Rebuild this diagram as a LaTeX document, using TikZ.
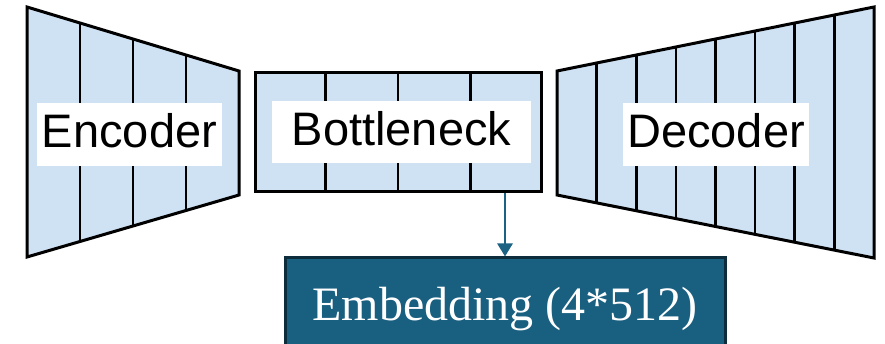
\documentclass[tikz,border=0pt]{standalone}
\usepackage{fontspec}
\setmainfont{Liberation Serif}
\setsansfont{Liberation Sans}
\usetikzlibrary{arrows.meta,calc}
\definecolor{lblue}{HTML}{CFE2F3}
\definecolor{embfill}{HTML}{195F80}
\definecolor{embborder}{HTML}{0D2C3C}
\definecolor{arrcol}{HTML}{1B6283}
\begin{document}
\begin{tikzpicture}[x=1pt,y=-1pt,
  seg/.style={draw=black, line width=3pt, fill=lblue, line join=miter},
  segline/.style={draw=black, line width=2.6pt},
  lbl/.style={fill=white, inner sep=0pt, font=\sffamily\fontsize{47}{47}\selectfont, text height=40pt, text depth=13pt},
  emb/.style={draw=embborder, line width=3pt, fill=embfill, inner sep=0pt, text=white, font=\rmfamily\fontsize{48}{48}\selectfont, text height=36pt, text depth=32pt},
  arr/.style={draw=arrcol, line width=2.6pt, -{Triangle[width=15pt,length=13pt]}}]
\clip (0,0) rectangle (885,344);
\fill[white] (0,0) rectangle (885,344);
% Encoder
\coordinate (e1) at (27,7);
\coordinate (e2) at (239,71);
\coordinate (e3) at (239,195);
\coordinate (e4) at (27,257);
\draw[seg] (e1)--(e2)--(e3)--(e4)--cycle;
\foreach \t in {0.25,0.5,0.75} \draw[segline] ($(e1)!\t!(e2)$) -- ($(e4)!\t!(e3)$);
% Decoder
\coordinate (d1) at (557,71);
\coordinate (d2) at (874,7);
\coordinate (d3) at (874,258);
\coordinate (d4) at (557,195);
\draw[seg] (d1)--(d2)--(d3)--(d4)--cycle;
\foreach \t in {0.125,0.25,0.375,0.5,0.625,0.75,0.875} \draw[segline] ($(d1)!\t!(d2)$) -- ($(d4)!\t!(d3)$);
% Bottleneck
\node[seg, inner sep=0pt, minimum width=286pt, minimum height=119pt] (bott) at (398,132.5) {};
\foreach \t in {0.25,0.5,0.75} \draw[segline] ($(bott.north west)!\t!(bott.north east)$) -- ($(bott.south west)!\t!(bott.south east)$);
% Labels
\node[lbl, minimum width=185pt, minimum height=63pt] (enclbl) at (129.5,134.5) {Encoder};
\node[lbl, minimum width=259pt, minimum height=62pt] (bottlbl) at (401.5,132) {Bottleneck};
\node[lbl, minimum width=186pt, minimum height=63pt] (declbl) at (716,134.5) {Decoder};
% Embedding
\node[emb, minimum width=440pt, minimum height=120pt] (emb) at (505,318) {Embedding (4*512)};
\draw[arr] (bott.south -| emb.north) -- (emb.north);
\end{tikzpicture}
\end{document}
